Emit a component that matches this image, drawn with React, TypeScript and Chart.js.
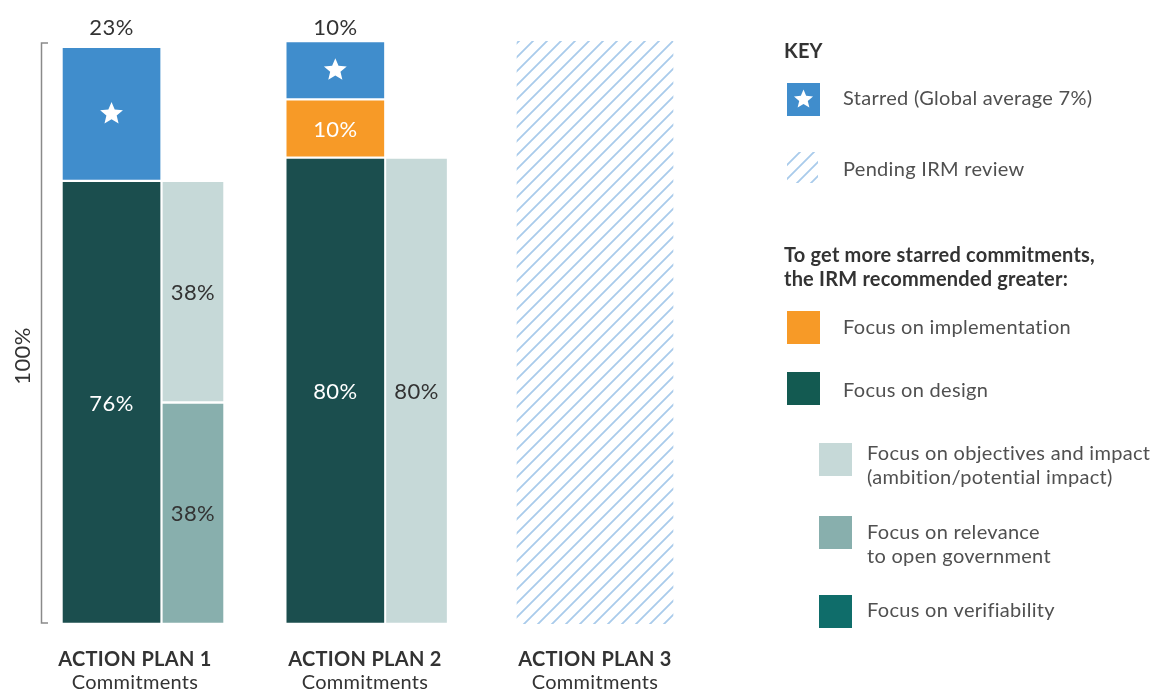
import React, { useEffect, useRef } from "react";
import { Chart, registerables } from "chart.js";

Chart.register(...registerables);

// ---------- data ----------
const planLabels = ["ACTION PLAN 1", "ACTION PLAN 2", "ACTION PLAN 3"];
const planSubLabel = "Commitments";
const starred: (number | null)[] = [23, 10, null];
const implementation: (number | null)[] = [null, 10, null];
const design: (number | null)[] = [76, 80, null];
const relevance: (number | null)[] = [38, null, null];
const objectives: (number | null)[] = [38, 80, null];
const pending: (number | null)[] = [null, null, 100];
const axisLabel = "100%";

const keyTitle = "KEY";
const keyStarred = "Starred (Global average 7%)";
const keyPending = "Pending IRM review";
const recHeading = ["To get more starred commitments,", "the IRM recommended greater:"];
const keyImplementation = ["Focus on implementation"];
const keyDesign = ["Focus on design"];
const keyObjectives = ["Focus on objectives and impact", "(ambition/potential impact)"];
const keyRelevance = ["Focus on relevance", "to open government"];
const keyVerifiability = ["Focus on verifiability"];

// ---------- layout / style ----------
const MAIN_OFFSET = [-0.102, -0.129, 0];
const SIDE_OFFSET = [0.252, 0.224, 0];
const MAIN_W = 100;
const SIDE_W = 63;
const PENDING_W = 156;

const BLUE = "#408dcc";
const ORANGE = "#f79a27";
const DARK = "#1b4e4e";
const LIGHT = "#c6d9d8";
const MID = "#88afad";
const HATCH = "#a9cbeb";
const DESIGN_KEY = "#135a51";
const VERIF = "#0f6d6a";
const TXT = "#333333";
const TXT2 = "#505050";
const FONT = "Lato, 'Open Sans', sans-serif";

function makePattern(): CanvasPattern | string {
  const c = document.createElement("canvas");
  c.width = 14;
  c.height = 14;
  const g = c.getContext("2d");
  if (!g) return HATCH;
  g.strokeStyle = HATCH;
  g.lineWidth = 1.8;
  g.beginPath();
  g.moveTo(-2, 16);
  g.lineTo(16, -2);
  g.moveTo(-9, 9);
  g.lineTo(9, -9);
  g.moveTo(5, 23);
  g.lineTo(23, 5);
  g.stroke();
  const p = g.createPattern(c, "repeat");
  return p || HATCH;
}

function star(ctx: CanvasRenderingContext2D, cx: number, cy: number, r: number) {
  const ri = r * 0.45;
  ctx.beginPath();
  for (let i = 0; i < 10; i++) {
    const rad = i % 2 === 0 ? r : ri;
    const a = -Math.PI / 2 + (i * Math.PI) / 5;
    const x = cx + rad * Math.cos(a);
    const y = cy + rad * Math.sin(a);
    if (i === 0) ctx.moveTo(x, y);
    else ctx.lineTo(x, y);
  }
  ctx.closePath();
  ctx.fillStyle = "#ffffff";
  ctx.fill();
}

function points(vals: (number | null)[], offs: number[]) {
  const out: { x: number; y: number }[] = [];
  vals.forEach((v, i) => {
    if (v !== null) out.push({ x: i + 1 + offs[i], y: v });
  });
  return out;
}

export default function App() {
  const ref = useRef<HTMLCanvasElement>(null);

  useEffect(() => {
    if (!ref.current) return;
    const pattern = makePattern();

    const barBase = {
      borderColor: "#ffffff",
      borderWidth: 1.5,
      borderSkipped: false as const,
      grouped: false,
    };

    const datasets: any[] = [
      { ...barBase, label: "design", data: points(design, MAIN_OFFSET), backgroundColor: DARK, stack: "main", barThickness: MAIN_W, textColor: "#ffffff", inside: true },
      { ...barBase, label: "implementation", data: points(implementation, MAIN_OFFSET), backgroundColor: ORANGE, stack: "main", barThickness: MAIN_W, textColor: "#ffffff", inside: true },
      { ...barBase, label: "starred", data: points(starred, MAIN_OFFSET), backgroundColor: BLUE, stack: "main", barThickness: MAIN_W, textColor: TXT, starred: true },
      { ...barBase, label: "relevance", data: points(relevance, SIDE_OFFSET), backgroundColor: MID, stack: "side", barThickness: SIDE_W, textColor: TXT, inside: true },
      { ...barBase, label: "objectives", data: points(objectives, SIDE_OFFSET), backgroundColor: LIGHT, stack: "side", barThickness: SIDE_W, textColor: TXT, inside: true },
      { ...barBase, borderWidth: 0, label: "pending", data: points(pending, [0, 0, 0]), backgroundColor: pattern, stack: "pending", barThickness: PENDING_W },
    ];

    const drawPlugin = {
      id: "custom",
      afterDatasetsDraw(chart: any) {
        const ctx: any = chart.ctx;
        ctx.save();
        ctx.letterSpacing = "0.4px";
        chart.data.datasets.forEach((ds: any, di: number) => {
          const meta = chart.getDatasetMeta(di);
          meta.data.forEach((el: any, j: number) => {
            const v = ds.data[j].y;
            const cy = (el.y + el.base) / 2;
            if (ds.inside) {
              ctx.font = `400 22px ${FONT}`;
              ctx.fillStyle = ds.textColor;
              ctx.textAlign = "center";
              ctx.textBaseline = "middle";
              ctx.fillText(`${v}%`, el.x, cy + 1);
            } else if (ds.starred) {
              star(ctx, el.x, cy, 12);
              ctx.font = `400 22px ${FONT}`;
              ctx.fillStyle = TXT;
              ctx.textAlign = "center";
              ctx.textBaseline = "alphabetic";
              ctx.fillText(`${v}%`, el.x, 35);
            }
          });
        });
        ctx.restore();
      },
      afterDraw(chart: any) {
        const ctx: any = chart.ctx;
        const area = chart.chartArea;
        const xs = chart.scales.x;
        ctx.save();
        // bracket
        ctx.strokeStyle = "#8a8a8a";
        ctx.lineWidth = 1.5;
        ctx.beginPath();
        ctx.moveTo(48, area.top + 2);
        ctx.lineTo(41.5, area.top + 2);
        ctx.lineTo(41.5, area.bottom - 1);
        ctx.lineTo(48, area.bottom - 1);
        ctx.stroke();
        // 100% rotated
        ctx.save();
        ctx.letterSpacing = "0.4px";
        ctx.translate(30, 356);
        ctx.rotate(-Math.PI / 2);
        ctx.font = `400 22px ${FONT}`;
        ctx.fillStyle = TXT;
        ctx.textAlign = "center";
        ctx.textBaseline = "alphabetic";
        ctx.fillText(axisLabel, 0, 0);
        ctx.restore();
        // category labels
        ctx.letterSpacing = "0.3px";
        planLabels.forEach((lab, i) => {
          const x = xs.getPixelForValue(i + 1);
          ctx.textAlign = "center";
          ctx.textBaseline = "alphabetic";
          ctx.fillStyle = TXT;
          ctx.font = `700 20px ${FONT}`;
          ctx.fillText(lab, x, 666);
          ctx.font = `400 20px ${FONT}`;
          ctx.fillText(planSubLabel, x, 689);
        });
        // legend
        ctx.textAlign = "left";
        ctx.textBaseline = "alphabetic";
        ctx.fillStyle = TXT;
        ctx.font = `700 20px ${FONT}`;
        ctx.letterSpacing = "0.2px";
        ctx.fillText(keyTitle, 784, 58);
        recHeading.forEach((t, i) => ctx.fillText(t, 784, 262 + i * 24));

        const sq = (x: number, y: number, w: number, h: number, c: any) => {
          ctx.fillStyle = c;
          ctx.fillRect(x, y, w, h);
        };
        const txt = (lines: string[], x: number, y: number) => {
          ctx.font = `400 20px ${FONT}`;
          ctx.letterSpacing = "0.3px";
          ctx.fillStyle = TXT2;
          lines.forEach((t, i) => ctx.fillText(t, x, y + i * 24));
        };
        sq(787, 83, 33, 33, BLUE);
        star(ctx, 803.5, 99.5, 10);
        txt([keyStarred], 843, 105);
        sq(787, 152, 31, 31, pattern);
        txt([keyPending], 843, 176);
        sq(787, 311, 33, 33, ORANGE);
        txt(keyImplementation, 843, 334);
        sq(787, 372, 33, 33, DESIGN_KEY);
        txt(keyDesign, 843, 397);
        sq(819, 443, 33, 33, LIGHT);
        txt(keyObjectives, 867, 460);
        sq(819, 516, 33, 33, MID);
        txt(keyRelevance, 867, 539);
        sq(819, 595, 33, 33, VERIF);
        txt(keyVerifiability, 867, 617);
        ctx.restore();
      },
    };

    const chart = new Chart(ref.current, {
      type: "bar",
      data: { datasets },
      options: {
        animation: false,
        responsive: false,
        devicePixelRatio: 1,
        layout: { padding: { left: 20, right: 100, top: 41, bottom: 67 } },
        plugins: { legend: { display: false }, tooltip: { enabled: false } },
        scales: {
          x: { type: "linear", min: 0.5, max: 5, display: false, offset: false },
          y: { stacked: true, min: 0, max: 100, display: false },
        },
      } as any,
      plugins: [drawPlugin],
    });
    return () => chart.destroy();
  }, []);

  return (
    <div style={{ position: "fixed", left: 0, top: 0, width: 1155, height: 691, background: "#fff" }}>
      <canvas ref={ref} width={1155} height={691} style={{ display: "block" }} />
    </div>
  );
}
